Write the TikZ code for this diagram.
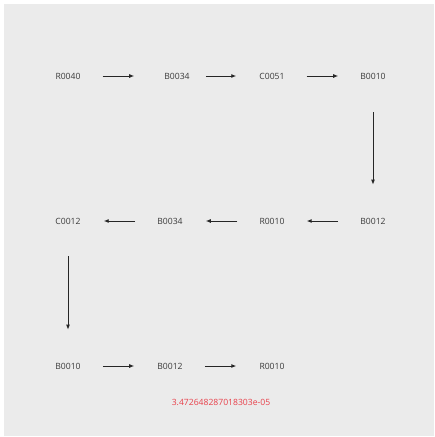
\documentclass[tikz,border=0pt]{standalone}
\usepackage{fontspec}
\setmainfont{Open Sans}
\usetikzlibrary{arrows.meta}
\definecolor{bg}{HTML}{EBEBEB}
\definecolor{txt}{HTML}{3A3A3A}
\definecolor{num}{HTML}{E8404A}
\begin{document}
\begin{tikzpicture}[x=1pt,y=-1pt,
  lbl/.style={inner sep=0pt,text=txt,font=\fontsize{8.6}{10}\selectfont},
  conn/.style={draw=black!85,line width=0.9pt,-{Latex[length=5pt,width=4pt]}}]
\useasboundingbox (0,0) rectangle (435,437);
\fill[white] (0,0) rectangle (435,437);
\fill[bg] (4,4) rectangle (434,436);
% row 1
\node[lbl] (a1) at (68,76) {R0040};
\node[lbl] (a2) at (177,76) {B0034};
\node[lbl] (a3) at (272,76) {C0051};
\node[lbl] (a4) at (373,76) {B0010};
% row 2
\node[lbl] (b1) at (68,221) {C0012};
\node[lbl] (b2) at (170,221) {B0034};
\node[lbl] (b3) at (272,221) {R0010};
\node[lbl] (b4) at (373,221) {B0012};
% row 3
\node[lbl] (c1) at (68,366) {B0010};
\node[lbl] (c2) at (170,366) {B0012};
\node[lbl] (c3) at (272,366) {R0010};
\node[inner sep=0pt,text=num,font=\fontsize{8.6}{10}\selectfont] (val) at (221,402) {3.472648287018303e-05};
% connectors
\draw[conn] ([xshift=22pt]a1.east) -- ([xshift=-30pt]a2.west);
\draw[conn] ([xshift=16pt]a2.east) -- ([xshift=-23pt]a3.west);
\draw[conn] ([xshift=22pt]a3.east) -- ([xshift=-22pt]a4.west);
\draw[conn] ([yshift=-33pt]a4.south) -- ([yshift=33pt]b4.north);
\draw[conn] ([xshift=-22pt]b4.west) -- ([xshift=22pt]b3.east);
\draw[conn] ([xshift=-22pt]b3.west) -- ([xshift=23pt]b2.east);
\draw[conn] ([xshift=-22pt]b2.west) -- ([xshift=23pt]b1.east);
\draw[conn] ([yshift=-32pt]b1.south) -- ([yshift=33pt]c1.north);
\draw[conn] ([xshift=22pt]c1.east) -- ([xshift=-23pt]c2.west);
\draw[conn] ([xshift=22pt]c2.east) -- ([xshift=-23pt]c3.west);
\end{tikzpicture}
\end{document}
